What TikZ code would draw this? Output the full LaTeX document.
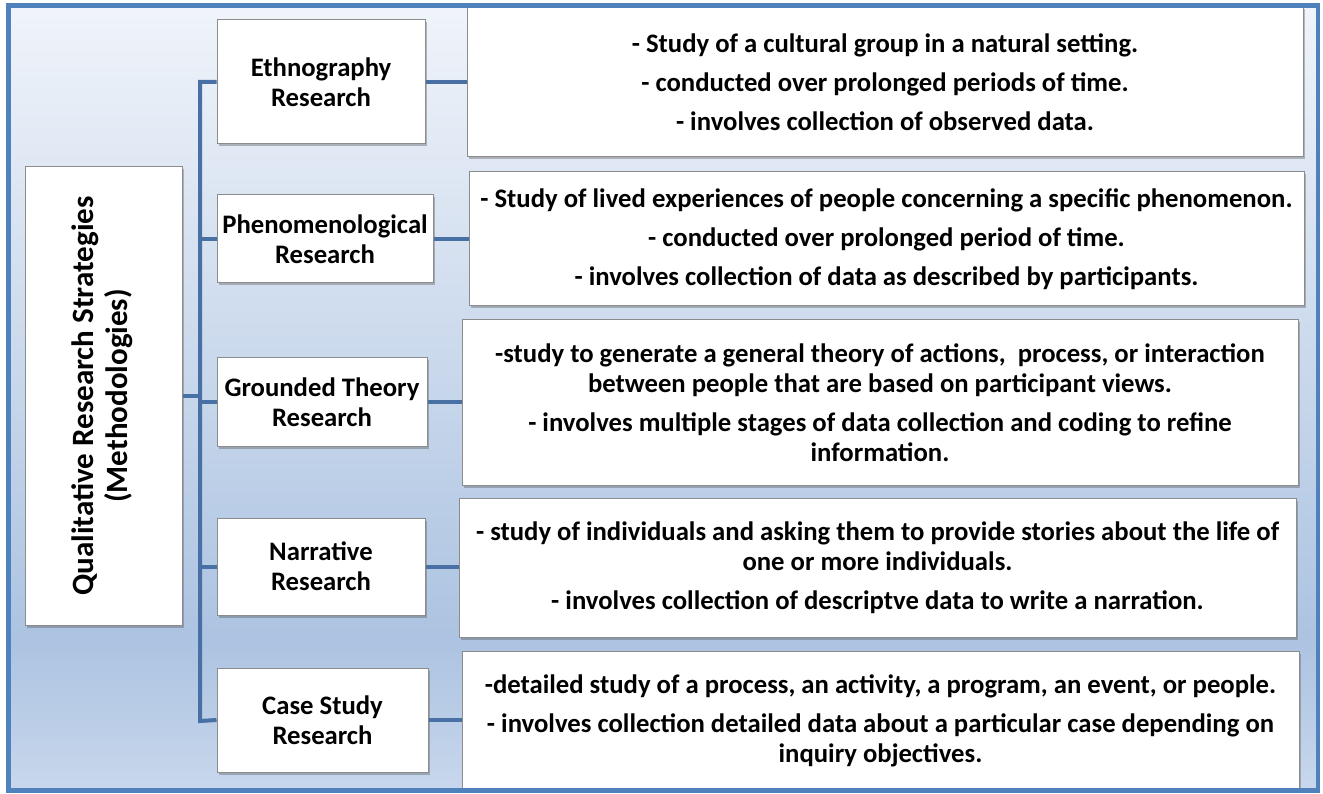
\documentclass[tikz,border=0pt]{standalone}
\usepackage{fontspec}
\setmainfont{Carlito}
\usetikzlibrary{shadows}
\definecolor{framecol}{RGB}{79,129,189}
\definecolor{conncol}{RGB}{72,112,165}
\definecolor{bgtop}{RGB}{240,244,250}
\definecolor{bgmid}{RGB}{172,195,225}
\definecolor{bgbot}{RGB}{200,215,236}
\definecolor{boxline}{RGB}{140,140,140}
\tikzset{
  box/.style={draw=boxline, line width=1pt, fill=white, inner sep=0pt, align=center,
    font=\fontsize{26.7}{30}\selectfont\bfseries,
    drop shadow={shadow xshift=2pt, shadow yshift=-2.5pt, opacity=0.35, fill=black!70}},
  conn/.style={draw=conncol, line width=4pt},
}
\begin{document}
\begin{tikzpicture}[x=1pt,y=-1pt]
\useasboundingbox (0,0) rectangle (1323,794);
% background
\shade[top color=bgtop, bottom color=bgmid] (8.5,5.5) rectangle (1318,640);
\shade[top color=bgmid, bottom color=bgbot] (8.5,639.5) rectangle (1318,790.5);

% main box
\node[box, minimum width=157, minimum height=458,
  font=\fontsize{31}{34}\selectfont\bfseries] (main) at (103.5,396)
  {\rotatebox{90}{\begin{tabular}{@{}c@{}}Qualitative Research Strategies\\(Methodologies)\end{tabular}}};

% middle boxes
\node[box, minimum width=208, minimum height=124] (ethno) at (321,82) {Ethnography\\Research};
\node[box, minimum width=216, minimum height=88] (phen) at (325,239) {Phenomenological\\Research};
\node[box, minimum width=210, minimum height=88] (grnd) at (322,402) {Grounded Theory\\Research};
\node[box, minimum width=208, minimum height=97] (narr) at (321,566.5) {Narrative\\Research};
\node[box, minimum width=211, minimum height=104] (case) at (322.5,720) {Case Study\\Research};

% right boxes
\node[box, minimum width=836, minimum height=150] (r1) at (885,82)
 {- Study of a cultural group in a natural setting.\\[9pt]
  - conducted over prolonged periods of time.\\[9pt]
  - involves collection of observed data.};
\node[box, minimum width=835, minimum height=134] (r2) at (886.5,239)
 {- Study of lived experiences of people concerning a specific phenomenon.\\[9pt]
  - conducted over prolonged period of time.\\[9pt]
  - involves collection of data as described by participants.};
\node[box, minimum width=836, minimum height=165] (r3) at (880,402.5)
 {-study to generate a general theory of actions,\ \ process, or interaction\\
  between people that are based on participant views.\\[9pt]
  - involves multiple stages of data collection and coding to refine\\
  information.};
\node[box, minimum width=837, minimum height=139] (r4) at (877.5,567.5)
 {- study of individuals and asking them to provide stories about the life of\\
  one or more individuals.\\[9pt]
  - involves collection of descriptve data to write a narration.};
\node[box, minimum width=837, minimum height=139] (r5) at (880.5,720.5)
 {-detailed study of a process, an activity, a program, an event, or people.\\[9pt]
  - involves collection detailed data about a particular case depending on\\
  inquiry objectives.};

% connectors
\coordinate (bb) at (200,721);
\draw[conn] (ethno.west) -| (bb) -- (case.west);
\draw[conn] (main.east) -- (main.east -| bb);
\draw[conn] (phen.west) -- (phen.west -| bb);
\draw[conn] (grnd.west) -- (grnd.west -| bb);
\draw[conn] (narr.west) -- (narr.west -| bb);
\draw[conn] (ethno.east) -- (ethno.east -| r1.west);
\draw[conn] (phen.east) -- (phen.east -| r2.west);
\draw[conn] (grnd.east) -- (grnd.east -| r3.west);
\draw[conn] (narr.east) -- (narr.east -| r4.west);
\draw[conn] (case.east) -- (case.east -| r5.west);

% frame
\draw[framecol, line width=4.5pt] (8.5,5.5) rectangle (1318,790.5);
\end{tikzpicture}
\end{document}
